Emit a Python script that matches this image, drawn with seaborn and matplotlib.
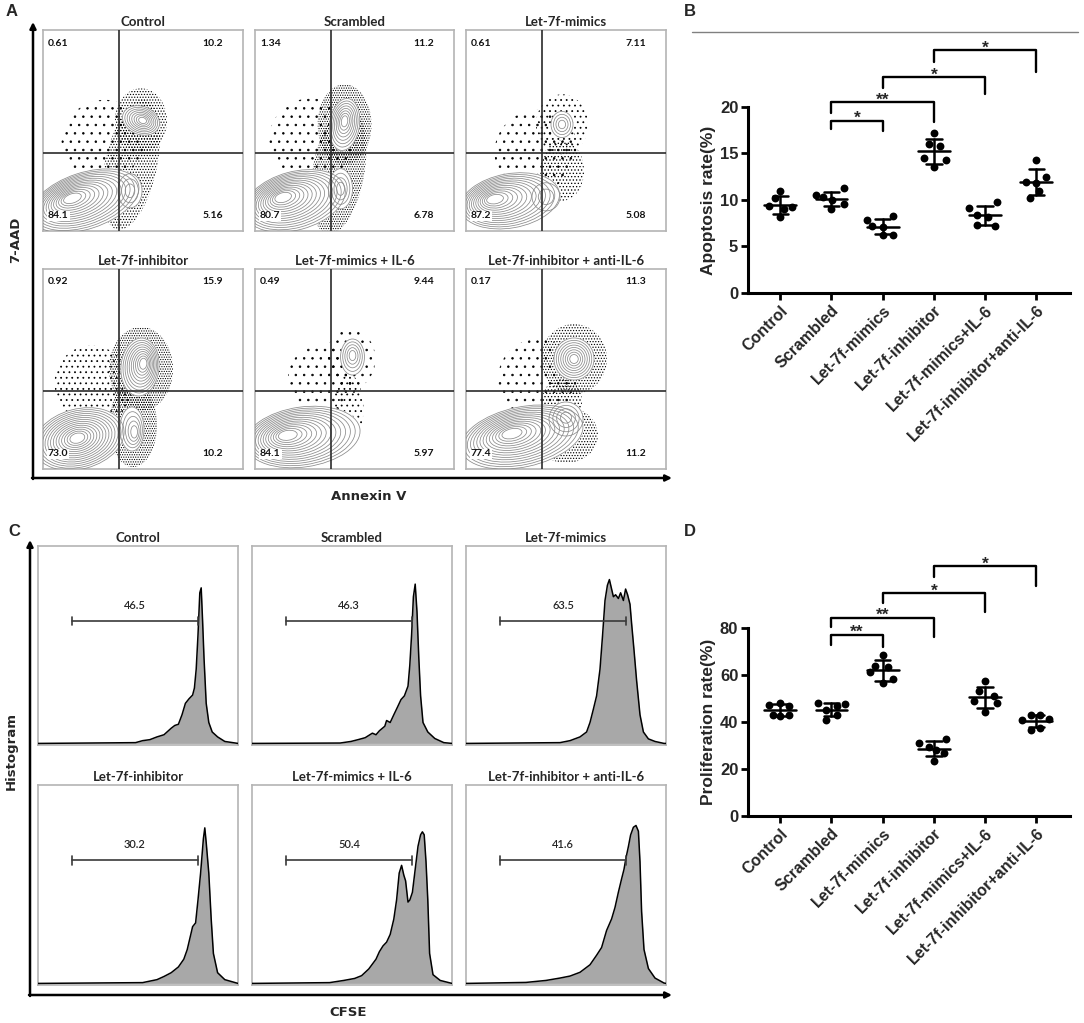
"""
Apoptosis / proliferation figure: flow plots (A, C) and dot plots (B, D).
"""

import numpy as np
import pandas as pd
import matplotlib
matplotlib.use('Agg')
import matplotlib.pyplot as plt
from matplotlib.patches import Ellipse
from matplotlib.lines import Line2D
import seaborn as sns

sns.set_theme(style='white')
plt.rcParams['font.family'] = ['Liberation Sans', 'DejaVu Sans']
plt.rcParams['hatch.linewidth'] = 0.55
plt.rcParams['hatch.color'] = 'black'

W, H = 1084, 1023

# ---------------- data ----------------
flow_titles = ['Control', 'Scrambled', 'Let-7f-mimics',
               'Let-7f-inhibitor', 'Let-7f-mimics + IL-6', 'Let-7f-inhibitor + anti-IL-6']
groups = ['Control', 'Scrambled', 'Let-7f-mimics', 'Let-7f-inhibitor',
          'Let-7f-mimics+IL-6', 'Let-7f-inhibitor+anti-IL-6']

# quadrant percentages (A)
quad_tl = ['0.61', '1.34', '0.61', '0.92', '0.49', '0.17']
quad_tr = ['10.2', '11.2', '7.11', '15.9', '9.44', '11.3']
quad_bl = ['84.1', '80.7', '87.2', '73.0', '84.1', '77.4']
quad_br = ['5.16', '6.78', '5.08', '10.2', '5.97', '11.2']

# populations: (cx, cy, w, h, angle, core_x, core_y, n_levels), axes fraction units
pops_control = [(0.21, 0.15, 0.56, 0.28, 18, 0.135, 0.165, 14),
                (0.435, 0.20, 0.12, 0.17, 0, 0.435, 0.20, 3),
                (0.49, 0.55, 0.14, 0.19, 70, 0.50, 0.55, 8)]
pops_scrambled = [(0.20, 0.15, 0.52, 0.29, 15, 0.13, 0.17, 14),
                  (0.43, 0.21, 0.12, 0.20, 0, 0.43, 0.21, 4),
                  (0.45, 0.53, 0.15, 0.26, -8, 0.45, 0.55, 8)]
pops_mimics = [(0.22, 0.15, 0.50, 0.27, 10, 0.13, 0.16, 13),
               (0.40, 0.17, 0.14, 0.14, 0, 0.40, 0.17, 2),
               (0.48, 0.53, 0.11, 0.13, 0, 0.48, 0.53, 4)]
pops_inhibitor = [(0.18, 0.15, 0.46, 0.30, 15, 0.17, 0.155, 14),
                  (0.445, 0.20, 0.12, 0.22, 0, 0.46, 0.18, 5),
                  (0.485, 0.51, 0.19, 0.29, -5, 0.505, 0.53, 10)]
pops_mimics_il6 = [(0.24, 0.16, 0.58, 0.30, 8, 0.15, 0.17, 14),
                   (0.49, 0.56, 0.12, 0.18, 0, 0.49, 0.57, 5)]
pops_inhib_anti = [(0.28, 0.16, 0.62, 0.30, 12, 0.22, 0.18, 14),
                   (0.50, 0.25, 0.17, 0.17, 0, 0.50, 0.26, 4),
                   (0.54, 0.55, 0.20, 0.21, 0, 0.54, 0.55, 8)]

# scattered events around populations: (cx, cy, w, h, angle, hatch)
halo_control = [(0.30, 0.45, 0.42, 0.40, 30, '..'),
                (0.44, 0.33, 0.26, 0.66, -12, '......'),
                (0.49, 0.55, 0.26, 0.32, 0, '......')]
halo_scrambled = [(0.28, 0.45, 0.42, 0.42, 30, '..'),
                  (0.42, 0.30, 0.26, 0.64, -10, '.......'),
                  (0.45, 0.53, 0.27, 0.40, 0, '.......')]
halo_mimics = [(0.35, 0.40, 0.42, 0.40, 30, '..'),
               (0.48, 0.30, 0.22, 0.30, 0, '.....'),
               (0.48, 0.53, 0.26, 0.30, 0, '...')]
halo_inhibitor = [(0.25, 0.42, 0.38, 0.40, 30, '...'),
                  (0.45, 0.22, 0.24, 0.42, 0, '.......'),
                  (0.49, 0.50, 0.32, 0.42, 0, '.......')]
halo_mimics_il6 = [(0.34, 0.45, 0.35, 0.35, 30, '..'),
                   (0.47, 0.30, 0.15, 0.35, 0, '...'),
                   (0.48, 0.55, 0.25, 0.30, 0, '..')]
halo_inhib_anti = [(0.36, 0.45, 0.40, 0.40, 30, '..'),
                   (0.50, 0.17, 0.32, 0.28, 0, '......'),
                   (0.48, 0.34, 0.20, 0.22, 0, '.....'),
                   (0.54, 0.55, 0.33, 0.35, 0, '......')]

# CFSE histograms (C): channel 0-1000, height in % of panel
gate_values = ['46.5', '46.3', '63.5', '30.2', '50.4', '41.6']
hist_control_x = [0, 380, 488, 523, 559, 595, 630, 666, 684, 702, 720, 737, 755, 773, 782,
                  791, 800, 809, 816, 823, 830, 841, 854, 871, 898, 934, 1000]
hist_control_y = [0, 0.3, 0.4, 1.4, 1.9, 3.3, 4.4, 7.7, 9.1, 9.7, 14.5, 20.3, 22.6, 24.5, 28,
                  37.6, 55, 76.3, 78.8, 62, 43.4, 20.3, 10.6, 5.8, 3.3, 1.0, 0]
hist_scrambled_x = [0, 441, 495, 530, 566, 602, 620, 637, 664, 673, 691, 709, 727, 745, 762,
                    780, 789, 798, 807, 816, 825, 834, 843, 855, 879, 914, 959, 1000]
hist_scrambled_y = [0, 0.2, 1.0, 1.9, 2.9, 5.2, 4.4, 6.4, 8.7, 11.6, 10.6, 14.5, 18.3, 22.2, 24.1,
                    29, 39.6, 55, 74.3, 80.7, 66.6, 43.4, 24.1, 10.6, 5.8, 2.5, 0.4, 0]
hist_mimics_x = [0, 470, 520, 570, 603, 620, 637, 653, 670, 683, 695, 707, 717, 728, 737, 748,
                 762, 773, 787, 798, 808, 820, 828, 840, 853, 870, 887, 912, 945, 990, 1000]
hist_mimics_y = [0, 0.4, 1.4, 3.3, 5.8, 10.6, 17.4, 24.1, 37.6, 55, 72.4, 80.1, 83, 78.2, 74.3, 75.3,
                 73.4, 76.3, 72.4, 78.2, 75.3, 70.5, 60.8, 47.3, 31.9, 14.5, 5.8, 2.3, 1.0, 0, 0]
hist_inhibitor_x = [0, 523, 595, 630, 666, 702, 729, 746, 764, 773, 788, 800, 813, 827, 834,
                    841, 854, 866, 877, 898, 934, 1000]
hist_inhibitor_y = [0, 0.4, 1.9, 3.5, 5.4, 8.3, 12.2, 17, 24.7, 28.6, 30.5, 42.1, 55.6, 73, 78.4,
                    71, 55.6, 32.4, 15.1, 5.4, 1.9, 0]
hist_mimics_il6_x = [0, 388, 459, 513, 548, 584, 620, 637, 655, 673, 691, 709, 723, 736, 748, 759,
                     768, 780, 789, 802, 816, 830, 843, 852, 861, 870, 879, 888, 905, 941, 1000]
hist_mimics_il6_y = [0, 0.4, 1.5, 2.5, 3.9, 7.3, 12.2, 16, 18.9, 20.8, 24.7, 32.4, 42.1, 55.6, 59.5,
                     54.6, 51.7, 41, 42, 45.9, 57.5, 69.1, 74.9, 76.4, 74.9, 61.4, 42.1, 15.1, 4.4, 1.5, 0]
hist_inhib_anti_x = [0, 300, 400, 470, 520, 570, 620, 653, 678, 703, 728, 745, 762, 778, 790, 800,
                     812, 823, 837, 850, 862, 870, 878, 890, 912, 945, 990, 1000]
hist_inhib_anti_y = [0, 0.5, 1.5, 2.7, 3.7, 5.6, 9.4, 14.2, 18.1, 26.7, 32.5, 38.3, 46, 52.7, 57.5,
                     63.3, 69, 74.8, 78.7, 79.6, 76.7, 61.3, 36.3, 17.1, 7.5, 2.7, 0.2, 0]

# apoptosis rate (B), six replicates per group, with horizontal spread
apoptosis = [[11.0, 10.2, 9.4, 9.2, 9.0, 8.2],
             [11.3, 10.5, 10.3, 10.0, 9.6, 9.0],
             [8.3, 7.9, 7.2, 7.1, 6.2, 6.2],
             [17.2, 16.0, 15.8, 14.5, 14.3, 13.5],
             [9.8, 9.1, 8.4, 8.2, 7.3, 7.2],
             [14.3, 12.5, 11.9, 11.8, 11.0, 10.2]]
apoptosis_spread = [[0.0, -0.1, -0.22, 0.22, 0.08, 0.0],
                    [0.24, -0.31, -0.16, 0.02, 0.24, 0.0],
                    [0.21, -0.31, -0.2, 0.0, 0.0, 0.21],
                    [0.0, -0.1, 0.13, -0.2, 0.23, 0.0],
                    [0.24, -0.31, -0.15, 0.05, -0.15, 0.2],
                    [0.0, 0.2, -0.2, 0.0, 0.05, -0.12]]
apoptosis_brackets = [(1, 3, 20.5, 19.4, 18.4, '**'),
                      (1, 2, 18.5, 17.6, 17.4, '*'),
                      (2, 4, 23.2, 22.0, 21.4, '*'),
                      (3, 5, 26.1, 24.8, 23.8, '*')]

# proliferation rate (D)
proliferation = [[48.2, 47.1, 46.6, 42.8, 42.5, 42.8],
                 [48.2, 47.5, 47.0, 45.0, 43.0, 40.8],
                 [68.5, 63.9, 63.4, 61.4, 58.1, 56.5],
                 [32.6, 31.0, 29.4, 28.0, 26.8, 23.5],
                 [57.3, 53.2, 51.0, 49.0, 48.2, 44.1],
                 [42.8, 42.8, 41.2, 40.8, 37.5, 36.7]]
proliferation_spread = [[0.0, -0.22, 0.18, -0.14, 0.0, 0.18],
                        [-0.26, 0.26, 0.1, -0.1, 0.1, -0.1],
                        [0.0, -0.15, 0.11, -0.25, 0.21, 0.0],
                        [0.23, -0.29, -0.1, 0.05, 0.2, 0.0],
                        [0.0, -0.12, 0.18, -0.22, 0.24, 0.0],
                        [-0.1, 0.08, 0.25, -0.27, 0.08, -0.1]]
proliferation_brackets = [(1, 3, 84.4, 80.3, 76.2, '**'),
                          (1, 2, 77.0, 72.9, 72.1, '**'),
                          (2, 4, 94.8, 90.5, 86.6, '*'),
                          (3, 5, 106.3, 101.7, 97.9, '*')]

flow_pops = [pops_control, pops_scrambled, pops_mimics,
             pops_inhibitor, pops_mimics_il6, pops_inhib_anti]
flow_halos = [halo_control, halo_scrambled, halo_mimics,
              halo_inhibitor, halo_mimics_il6, halo_inhib_anti]
hist_x = [hist_control_x, hist_scrambled_x, hist_mimics_x,
          hist_inhibitor_x, hist_mimics_il6_x, hist_inhib_anti_x]
hist_y = [hist_control_y, hist_scrambled_y, hist_mimics_y,
          hist_inhibitor_y, hist_mimics_il6_y, hist_inhib_anti_y]

FLOW_FONT = ['Lato', 'DejaVu Sans']

fig = plt.figure(figsize=(W / 100, H / 100), dpi=100)
fig.patch.set_facecolor('white')


def px_axes(x0, y0, x1, y1):
    return fig.add_axes([x0 / W, 1 - y1 / H, (x1 - x0) / W, (y1 - y0) / H])


def frame(ax):
    ax.set_xticks([])
    ax.set_yticks([])
    ax.set_facecolor('white')
    for sp in ax.spines.values():
        sp.set_visible(True)
        sp.set_color('#b4b4b4')
        sp.set_linewidth(1.2)


def flow_panel(ax, idx):
    ax.set_xlim(0, 1)
    ax.set_ylim(0, 1)
    frame(ax)
    for cx, cy, w, h, ang, hatch in flow_halos[idx]:
        ax.add_patch(Ellipse((cx, cy), w, h, angle=ang, fill=False, hatch=hatch,
                             edgecolor='black', lw=0, zorder=1))
    for cx, cy, w, h, ang, kx, ky, n in flow_pops[idx]:
        ax.add_patch(Ellipse((cx, cy), w * 1.02, h * 1.02, angle=ang, facecolor='white',
                             edgecolor='none', zorder=2))
    for cx, cy, w, h, ang, kx, ky, n in flow_pops[idx]:
        for i in range(n):
            s = 1 - 0.9 * i / n
            c = (kx + s * (cx - kx), ky + s * (cy - ky))
            ax.add_patch(Ellipse(c, w * s, h * s, angle=ang, fill=False,
                                 edgecolor='#8a8a8a', lw=0.55, zorder=3))
    ax.axvline(0.38, color='#2b2b2b', lw=1.2, zorder=4)
    ax.axhline(0.39, color='#2b2b2b', lw=1.2, zorder=4)
    kw = dict(fontsize=7.5, fontweight='bold', family=FLOW_FONT, zorder=6, color='#111111')
    ax.text(0.025, 0.935, quad_tl[idx], ha='left', va='center', **kw)
    ax.text(0.90, 0.935, quad_tr[idx], ha='right', va='center', **kw)
    ax.text(0.025, 0.075, quad_bl[idx], ha='left', va='center',
            bbox=dict(fc='white', ec='none', pad=0.6), **kw)
    ax.text(0.90, 0.075, quad_br[idx], ha='right', va='center', **kw)
    ax.set_title(flow_titles[idx], fontsize=9.5, fontweight='bold', family=FLOW_FONT, pad=3)


def hist_panel(ax, idx):
    x = np.array(hist_x[idx], dtype=float)
    y = np.array(hist_y[idx], dtype=float)
    ax.fill_between(x, y, color='#a8a8a8', lw=0, zorder=2)
    sns.lineplot(x=x, y=y, color='black', lw=1.1, ax=ax, zorder=3)
    ax.set_xlim(0, 1000)
    ax.set_ylim(-0.8, 100)
    ax.set_xlabel('')
    ax.set_ylabel('')
    frame(ax)
    gx0, gx1, gy = 170, 800, 62
    ax.plot([gx0, gx1], [gy, gy], color='#3a3a3a', lw=1.2, zorder=4)
    ax.plot([gx0, gx0], [gy - 2.2, gy + 2.2], color='#3a3a3a', lw=1.2, zorder=4)
    ax.plot([gx1, gx1], [gy - 2.2, gy + 2.2], color='#3a3a3a', lw=1.2, zorder=4)
    ax.text((gx0 + gx1) / 2, gy + 5, gate_values[idx], ha='center', va='bottom',
            fontsize=8, fontweight='semibold', family=FLOW_FONT, zorder=5)
    ax.set_title(flow_titles[idx], fontsize=9.5, fontweight='bold', family=FLOW_FONT, pad=3)


def dot_panel(ax, values, spread, ymax, yticks, ylabel, brackets):
    rows = []
    for i, (vals, offs) in enumerate(zip(values, spread)):
        for v, o in zip(vals, offs):
            rows.append({'x': i + o, 'y': v})
    df = pd.DataFrame(rows)
    sns.scatterplot(data=df, x='x', y='y', color='black', s=32, linewidth=0,
                    ax=ax, zorder=4, legend=False, clip_on=False)
    for i, vals in enumerate(values):
        m = np.mean(vals)
        sd = np.std(vals, ddof=1)
        ax.plot([i - 0.31, i + 0.31], [m, m], color='black', lw=1.8, zorder=5)
        ax.plot([i - 0.15, i + 0.15], [m + sd, m + sd], color='black', lw=1.8, zorder=5)
        ax.plot([i - 0.15, i + 0.15], [m - sd, m - sd], color='black', lw=1.8, zorder=5)
        ax.plot([i, i], [m - sd, m + sd], color='black', lw=1.8, zorder=5)
    for x1, x2, top, lb, rb, label in brackets:
        ax.plot([x1, x1, x2, x2], [lb, top, top, rb], color='black', lw=1.7,
                clip_on=False, zorder=5)
        ax.annotate(label, xy=((x1 + x2) / 2, top), xytext=(0, -1.5),
                    textcoords='offset points', ha='center', va='baseline',
                    fontsize=12.5, fontweight='bold', annotation_clip=False)
    ax.set_xlim(-0.63, 5.66)
    ax.set_ylim(0, ymax)
    ax.set_yticks(yticks)
    ax.set_xticks(range(len(groups)))
    ax.set_xticklabels(groups, rotation=45, ha='right', rotation_mode='anchor')
    ax.set_xlabel('')
    ax.set_ylabel(ylabel, fontsize=12.5, fontweight='bold', labelpad=3)
    ax.set_facecolor('white')
    for s in ['top', 'right']:
        ax.spines[s].set_visible(False)
    for s in ['left', 'bottom']:
        ax.spines[s].set_color('black')
        ax.spines[s].set_linewidth(2.2)
    ax.tick_params(axis='both', direction='out', length=5, width=2, color='black',
                   pad=2, bottom=True, left=True)
    ax.tick_params(axis='x', labelsize=11.5)
    ax.tick_params(axis='y', labelsize=12)
    for lab in ax.get_xticklabels() + ax.get_yticklabels():
        lab.set_fontweight('bold')
    ax.grid(False)


# overlay for panel letters, axis arrows and labels
ov = fig.add_axes([0, 0, 1, 1])
ov.set_xlim(0, W)
ov.set_ylim(H, 0)
ov.axis('off')
ov.set_zorder(-5)

arrow = dict(arrowstyle='-|>', lw=1.8, color='black', mutation_scale=9, shrinkA=0, shrinkB=0)
ov.annotate('', xy=(33, 22), xytext=(33, 479), arrowprops=arrow)
ov.annotate('', xy=(672, 478), xytext=(32, 478), arrowprops=arrow)
ov.annotate('', xy=(30, 540), xytext=(30, 996), arrowprops=arrow)
ov.annotate('', xy=(672, 995), xytext=(29, 995), arrowprops=arrow)

lab_kw = dict(fontsize=9.5, fontweight='bold', family=['DejaVu Sans'])
ov.text(16, 240, '7-AAD', rotation=90, ha='center', va='center', **lab_kw)
ov.text(369, 496, 'Annexin V', ha='center', va='center', **lab_kw)
ov.text(11, 751, 'Histogram', rotation=90, ha='center', va='center', **lab_kw)
ov.text(348, 1012, 'CFSE', ha='center', va='center', **lab_kw)

letter_kw = dict(fontsize=12, fontweight='bold', ha='left', va='center')
ov.text(6, 12, 'A', **letter_kw)
ov.text(684, 12, 'B', **letter_kw)
ov.text(8, 532, 'C', **letter_kw)
ov.text(684, 532, 'D', **letter_kw)

fig.add_artist(Line2D([692 / W, 1078 / W], [1 - 32 / H, 1 - 32 / H],
                      color='#808080', lw=1.0))

# panel A
cols_a = [(43, 243), (255, 454), (466, 666)]
rows_a = [(30, 231), (269, 469)]
for k in range(6):
    r, c = divmod(k, 3)
    ax = px_axes(cols_a[c][0], rows_a[r][0], cols_a[c][1], rows_a[r][1])
    flow_panel(ax, k)

# panel C
cols_c = [(38, 238), (252, 452), (466, 666)]
rows_c = [(546, 745), (785, 985)]
for k in range(6):
    r, c = divmod(k, 3)
    ax = px_axes(cols_c[c][0], rows_c[r][0], cols_c[c][1], rows_c[r][1])
    hist_panel(ax, k)

# panel B
ax_b = px_axes(748, 107, 1070, 293)
dot_panel(ax_b, apoptosis, apoptosis_spread, 20, [0, 5, 10, 15, 20],
          'Apoptosis rate(%)', apoptosis_brackets)

# panel D
ax_d = px_axes(748, 628, 1070, 816)
dot_panel(ax_d, proliferation, proliferation_spread, 80, [0, 20, 40, 60, 80],
          'Proliferation rate(%)', proliferation_brackets)

fig.savefig('out.png', dpi=100, facecolor='white')
